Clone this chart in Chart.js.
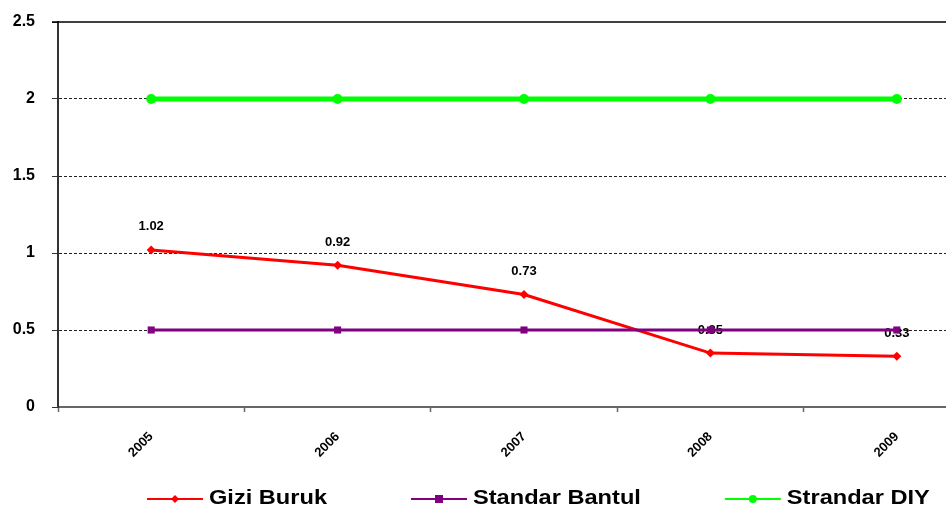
<!DOCTYPE html>
<html>
<head>
<meta charset="utf-8">
<script src="https://cdn.jsdelivr.net/npm/chart.js@4/dist/chart.umd.min.js"></script>
<style>
  html, body { margin: 0; padding: 0; background: #fff; overflow: hidden; }
  #wrap { width: 990px; height: 507px; }
</style>
</head>
<body>
<div id="wrap"><canvas id="chart" width="990" height="507"></canvas></div>
<script>
// Years on the category axis
const years = ['2005', '2006', '2007', '2008', '2009'];

// Series values
const giziBuruk = [1.02, 0.92, 0.73, 0.35, 0.33];
const standarBantul = [0.5, 0.5, 0.5, 0.5, 0.5];
const strandarDIY = [2, 2, 2, 2, 2];

// Value axis range
const yMin = 0;
const yMax = 2.5;
const yStep = 0.5;

const FONT = '"Liberation Sans", Arial, sans-serif';

// Value labels above the first series, drawn right after that series
const valueLabels = {
  id: 'valueLabels',
  afterDatasetDraw(chart, args) {
    if (args.index !== 0) return;
    const ctx = chart.ctx;
    const ds = chart.data.datasets[0];
    ctx.save();
    ctx.font = 'bold 13px ' + FONT;
    ctx.fillStyle = '#000';
    ctx.textAlign = 'center';
    ctx.textBaseline = 'middle';
    args.meta.data.forEach((pt, i) => {
      ctx.fillText(ds.data[i].toFixed(2), pt.x, pt.y - 23);
    });
    ctx.restore();
  }
};

// Solid frame line along the top of the plot area
const topFrame = {
  id: 'topFrame',
  beforeDatasetsDraw(chart) {
    const { ctx, chartArea } = chart;
    ctx.save();
    ctx.strokeStyle = '#000';
    ctx.lineWidth = 1.5;
    ctx.beginPath();
    ctx.moveTo(chartArea.left - 6, chartArea.top);
    ctx.lineTo(chartArea.right, chartArea.top);
    ctx.stroke();
    ctx.restore();
  }
};

function drawMarker(ctx, style, x, y, r, color) {
  ctx.fillStyle = color;
  ctx.beginPath();
  if (style === 'rectRot') {
    ctx.moveTo(x, y - r); ctx.lineTo(x + r, y); ctx.lineTo(x, y + r); ctx.lineTo(x - r, y);
    ctx.closePath();
  } else if (style === 'rect') {
    ctx.rect(x - r, y - r, 2 * r, 2 * r);
  } else {
    ctx.arc(x, y, r, 0, Math.PI * 2);
  }
  ctx.fill();
}

// Legend along the bottom: line sample with marker, then the series name
const bottomLegend = {
  id: 'bottomLegend',
  afterDraw(chart) {
    const ctx = chart.ctx;
    const y = 499;
    const lineLen = 56;
    const stretch = 1.18;
    let x = 147;
    ctx.save();
    ctx.font = 'bold 20px ' + FONT;
    ctx.textBaseline = 'middle';
    ctx.textAlign = 'left';
    chart.data.datasets.forEach(ds => {
      ctx.strokeStyle = ds.borderColor;
      ctx.lineWidth = 2;
      ctx.beginPath();
      ctx.moveTo(x, y);
      ctx.lineTo(x + lineLen, y);
      ctx.stroke();
      drawMarker(ctx, ds.pointStyle, x + lineLen / 2, y, ds.legendMarker, ds.borderColor);
      const tx = x + lineLen + 6;
      const w = ctx.measureText(ds.label).width * stretch;
      ctx.save();
      ctx.translate(tx, y - 1);
      ctx.scale(stretch, 1);
      ctx.fillStyle = '#000';
      ctx.fillText(ds.label, 0, 0);
      ctx.restore();
      x = tx + w + 84;
    });
    ctx.restore();
  }
};

new Chart(document.getElementById('chart'), {
  type: 'line',
  data: {
    labels: years,
    datasets: [
      {
        label: 'Gizi Buruk',
        data: giziBuruk,
        borderColor: '#FF0000',
        backgroundColor: '#FF0000',
        borderWidth: 3,
        pointStyle: 'rectRot',
        pointRadius: 4.5,
        pointBorderWidth: 0,
        legendMarker: 4,
        order: 3
      },
      {
        label: 'Standar Bantul',
        data: standarBantul,
        borderColor: '#800080',
        backgroundColor: '#800080',
        borderWidth: 3,
        pointStyle: 'rect',
        pointRadius: 5,
        pointBorderWidth: 0,
        legendMarker: 4,
        order: 2
      },
      {
        label: 'Strandar DIY',
        data: strandarDIY,
        borderColor: '#00FF00',
        backgroundColor: '#00FF00',
        borderWidth: 5,
        pointStyle: 'circle',
        pointRadius: 5,
        pointBorderWidth: 0,
        legendMarker: 4,
        order: 1
      }
    ]
  },
  options: {
    responsive: false,
    animation: false,
    layout: { autoPadding: false, padding: { left: 0, top: 22, right: 0, bottom: 0 } },
    plugins: {
      legend: { display: false },
      tooltip: { enabled: false }
    },
    elements: { line: { tension: 0 } },
    scales: {
      x: {
        type: 'category',
        offset: true,
        afterFit: s => { s.height = 100; s.paddingLeft = 0; s.paddingRight = 0; },
        grid: {
          offset: true,
          drawOnChartArea: false,
          drawTicks: true,
          tickLength: 5,
          tickColor: '#666',
          tickWidth: 1.5
        },
        border: { color: '#666', width: 2 },
        ticks: {
          color: '#000',
          font: { family: FONT, size: 13, weight: 'bold' },
          minRotation: 45,
          maxRotation: 45,
          padding: 17
        }
      },
      y: {
        min: yMin,
        max: yMax,
        afterFit: s => { s.width = 58; s.paddingTop = 0; s.paddingBottom = 0; },
        grid: {
          color: c => (c.tick && (c.tick.value === 0 || c.tick.value === yMax)) ? 'transparent' : '#222',
          lineWidth: 1,
          tickLength: 6,
          tickColor: '#333',
          tickBorderDash: []
        },
        border: { color: '#333', width: 2, dash: [3, 2] },
        ticks: {
          stepSize: yStep,
          color: '#000',
          font: { family: FONT, size: 16, weight: 'bold' },
          padding: 17,
          callback: v => String(v)
        }
      }
    }
  },
  plugins: [topFrame, valueLabels, bottomLegend]
});
</script>
</body>
</html>
